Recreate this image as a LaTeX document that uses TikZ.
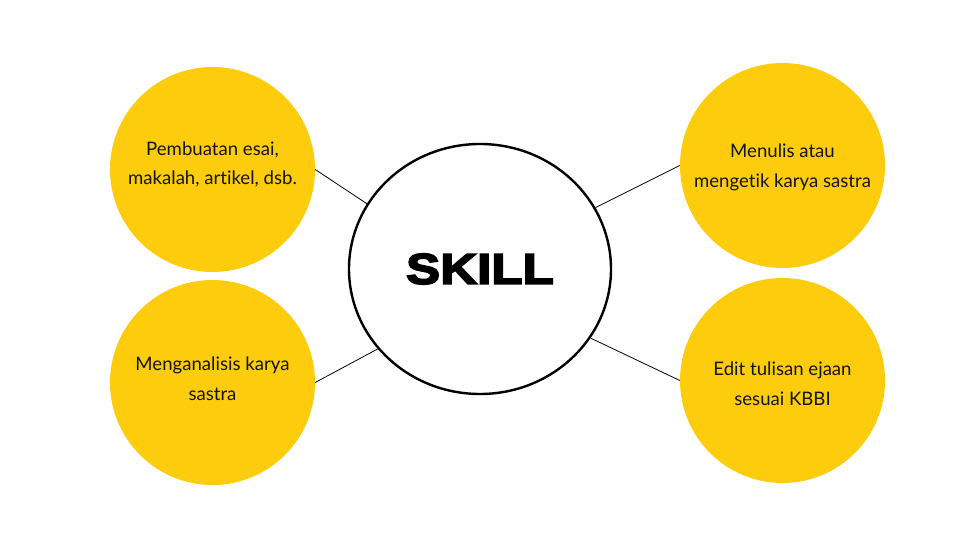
\documentclass[tikz,border=0pt]{standalone}
\usepackage{fontspec}
\setmainfont[Ligatures=NoCommon]{Lato}
\newfontfamily\skillfont[FakeBold=4,FakeStretch=1.19]{Liberation Sans Bold}
\usepackage{tikz}
\usetikzlibrary{shapes.geometric}
\definecolor{skillyellow}{RGB}{253,204,13}
\definecolor{skilltext}{RGB}{20,20,20}

\begin{document}
\begin{tikzpicture}[x=1pt,y=-1pt,
	item/.style={shape=circle,fill=skillyellow,minimum size=205pt,inner sep=0pt},
	label/.style={align=center,text=skilltext,font=\fontsize{18.6}{29.5}\selectfont},
	link/.style={draw=black,line width=0.8pt}]
	\useasboundingbox[fill=white] (0,0) rectangle (960,540);

	\node[shape=ellipse,draw=black,line width=2.4pt,minimum width=262pt,minimum height=250pt,inner sep=0pt] (skill) at (480,269) {\fontsize{43}{43}\skillfont SKILL};

	\node[item] (a) at (212.5,169.5) {};
	\node[item] (b) at (212.5,382.5) {};
	\node[item] (c) at (782.5,165.5) {};
	\node[item] (d) at (782.5,380.5) {};

	\node[label] (atext) at (212.5,164.5) {Pembuatan esai,\\makalah, artikel, dsb.};
	\node[label] (btext) at (212.5,378.5) {Menganalisis karya\\sastra};
	\node[label] (ctext) at (782.5,167.5) {Menulis atau\\mengetik karya sastra};
	\node[label] (dtext) at (782.5,383.5) {Edit tulisan ejaan\\sesuai KBBI};

	\path[link] (a.east) edge (skill.150);
	\path[link] (b.east) edge (skill.218);
	\path[link] (c.west) edge (skill.28);
	\path[link] (d.west) edge (skill.328);

\end{tikzpicture}
\end{document}
